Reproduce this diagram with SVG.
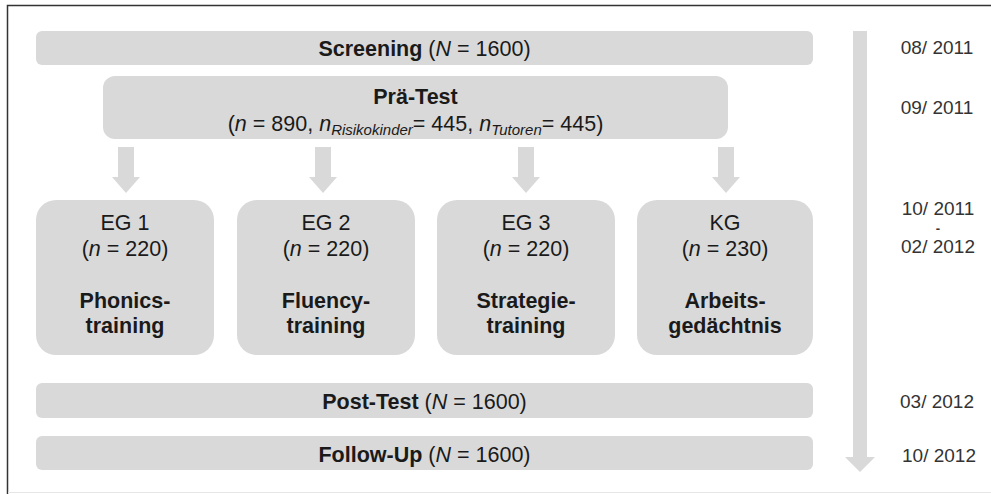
<svg xmlns="http://www.w3.org/2000/svg" width="991" height="494" viewBox="0 0 991 494">
<style>
.box{fill:#d9d9d9}
.arr{fill:#d9d9d9}
text{font-family:"Liberation Sans",Arial,sans-serif;fill:#1a1a1a}
.t{font-size:21.5px;text-anchor:middle}
.b{font-weight:bold}
.i{font-style:italic}
.sub{font-size:15px;font-style:italic}
.d{font-size:19px;text-anchor:middle;fill:#333}
.dash{font-size:13px;font-weight:bold;text-anchor:middle;fill:#333}
</style>
<rect x="0" y="0" width="991" height="494" fill="#fff"/>
<path d="M7.5,494 V5.5 H991" fill="none" stroke="#333" stroke-width="1.5"/>
<line x1="8" y1="492.5" x2="991" y2="492.5" stroke="#e6e6e6" stroke-width="1"/>

<g id="connectors">
<polygon class="arr" points="118,147 134,147 134,177 140,177 126,193 112,177 118,177"/>
<polygon class="arr" points="315,147 331,147 331,177 337,177 323,193 309,177 315,177"/>
<polygon class="arr" points="518,147 534,147 534,177 540,177 526,193 512,177 518,177"/>
<polygon class="arr" points="718,147 734,147 734,177 740,177 726,193 712,177 718,177"/>
<polygon class="arr" points="853,31 867,31 867,457 875,457 860,472 845,457 853,457"/>
</g>

<g id="screening">
<rect class="box" x="36" y="31" width="777" height="34" rx="6"/>
<text class="t" x="424.5" y="56"><tspan class="b">Screening</tspan> (<tspan class="i">N</tspan> = 1600)</text>
</g>

<g id="praetest">
<rect class="box" x="103" y="76" width="625" height="63" rx="12"/>
<text class="t b" x="415.5" y="104">Prä-Test</text>
<text class="t" x="415.5" y="131">(<tspan class="i">n</tspan> = 890, <tspan class="i">n</tspan><tspan class="sub" dy="4">Risikokinder</tspan><tspan dy="-4">= 445, </tspan><tspan class="i">n</tspan><tspan class="sub" dy="4">Tutoren</tspan><tspan dy="-4">= 445)</tspan></text>
</g>

<g id="eg1">
<rect class="box" x="36" y="200" width="178" height="155" rx="20"/>
<text class="t" x="125" y="230">EG 1</text>
<text class="t" x="125" y="256">(<tspan class="i">n</tspan> = 220)</text>
<text class="t b" x="125" y="308">Phonics-</text>
<text class="t b" x="125" y="333">training</text>
</g>

<g id="eg2">
<rect class="box" x="237" y="200" width="178" height="155" rx="20"/>
<text class="t" x="326" y="230">EG 2</text>
<text class="t" x="326" y="256">(<tspan class="i">n</tspan> = 220)</text>
<text class="t b" x="326" y="308">Fluency-</text>
<text class="t b" x="326" y="333">training</text>
</g>

<g id="eg3">
<rect class="box" x="437" y="200" width="178" height="155" rx="20"/>
<text class="t" x="526" y="230">EG 3</text>
<text class="t" x="526" y="256">(<tspan class="i">n</tspan> = 220)</text>
<text class="t b" x="526" y="308">Strategie-</text>
<text class="t b" x="526" y="333">training</text>
</g>

<g id="kg">
<rect class="box" x="637" y="200" width="176" height="155" rx="20"/>
<text class="t" x="725" y="230">KG</text>
<text class="t" x="725" y="256">(<tspan class="i">n</tspan> = 230)</text>
<text class="t b" x="725" y="308">Arbeits-</text>
<text class="t b" x="725" y="333">gedächtnis</text>
</g>

<g id="posttest">
<rect class="box" x="36" y="383" width="777" height="35" rx="6"/>
<text class="t" x="424.5" y="409"><tspan class="b">Post-Test</tspan> (<tspan class="i">N</tspan> = 1600)</text>
</g>

<g id="followup">
<rect class="box" x="36" y="436" width="777" height="34" rx="6"/>
<text class="t" x="424.5" y="462"><tspan class="b">Follow-Up</tspan> (<tspan class="i">N</tspan> = 1600)</text>
</g>

<g id="dates">
<text class="d" x="937" y="54">08/ 2011</text>
<text class="d" x="937" y="114">09/ 2011</text>
<text class="d" x="938" y="215">10/ 2011</text>
<text class="dash" x="938" y="233">-</text>
<text class="d" x="938" y="253">02/ 2012</text>
<text class="d" x="937" y="408">03/ 2012</text>
<text class="d" x="939" y="462">10/ 2012</text>
</g>
</svg>
